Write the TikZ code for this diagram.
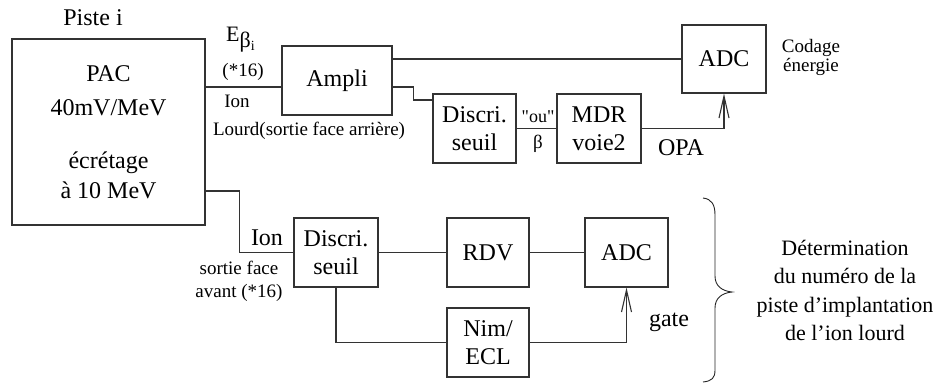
\documentclass[tikz,border=0pt]{standalone}
\usepackage{fontspec}
\setmainfont{Liberation Serif}
\newfontfamily\plainserif{Liberation Serif}
\usetikzlibrary{arrows.meta}
\begin{document}
\begin{tikzpicture}[x=1pt,y=-1pt,
  box/.style={draw=black!80,line width=1.1pt,inner sep=0pt,align=center,font=\fontsize{24}{28}\selectfont},
  wire/.style={draw=black!80,line width=1.1pt},
  arr/.style={wire,-{Straight Barb[length=22pt,width=10pt,line width=1.1pt]}},
  big/.style={font=\fontsize{24}{28}\selectfont,inner sep=0pt,anchor=base},
  small/.style={font=\fontsize{19}{22}\selectfont,inner sep=0pt,anchor=base},
]
\useasboundingbox[fill=white] (0,0) rectangle (950,383);

% boxes
\node[box,minimum width=193pt,minimum height=186pt] (pac) at (108.5,132)
  {PAC\\[6pt]40mV/MeV\\[25pt]écrétage\\[2pt]à 10 MeV};
\node[box,minimum width=110pt,minimum height=69pt] (amp) at (337,80.5) {Ampli};
\node[box,minimum width=84pt,minimum height=68pt] (adc1) at (724,59) {ADC};
\node[box,minimum width=83pt,minimum height=69pt] (d1) at (474.5,128.5) {Discri.\\seuil};
\node[box,minimum width=84pt,minimum height=69pt] (mdr) at (599,128.5) {MDR\\voie2};
\node[box,minimum width=84pt,minimum height=69pt] (d2) at (336,252.5) {Discri.\\seuil};
\node[box,minimum width=82pt,minimum height=69pt] (rdv) at (488,252.5) {RDV};
\node[box,minimum width=83pt,minimum height=69pt] (adc2) at (626.5,252.5) {ADC};
\node[box,minimum width=82pt,minimum height=69pt] (nim) at (488,342.5) {Nim/\\ECL};

% labels
\node[big] (piste) at (93,25) {Piste i};
\node[inner sep=0pt,anchor=base west,font=\fontsize{22}{22}\selectfont] (eb) at (226,41)
  {E\raisebox{-6pt}{β}\raisebox{-9pt}{\fontsize{14}{14}\selectfont i}};
\node[small] (x16) at (243,76) {(*16)};
\node[small] (ion1) at (237,107) {Ion};
\node[small] (lourd) at (309,135) {Lourd(sortie face arrière)};
\node[small] (codage) at (811,52) {Codage};
\node[small] (energie) at (811,71) {énergie};
\node[small,font=\fontsize{18}{18}\plainserif] (ou) at (538,122) {"ou"};
\node[small] (beta) at (538,148) {β};
\node[big] (opa) at (681,155) {OPA};
\node[big] (ion2) at (267,245) {Ion};
\node[small] (sortie) at (239,274) {sortie face};
\node[small] (avant) at (239,297) {avant (*16)};
\node[big] (gate) at (669,326) {gate};
\node[inner sep=0pt,align=center,font=\fontsize{22}{28.5}\selectfont] (det) at (845,290.3)
  {Détermination\\du numéro de la\\piste d’implantation\\de l’ion lourd};

% connectors
\draw[wire] (pac.east |- 0,87) -- (amp.west |- 0,87);
\draw[wire] (amp.east |- adc1.west) -- (adc1.west);
\draw[wire] (amp.east |- 0,87) -- ++(21,0) |- (d1.west |- 0,100);
\draw[wire] (d1) -- (mdr);
\draw[arr] (mdr.east) -| (adc1.south);
\draw[wire] (pac.east |- 0,191) -- ++(34,0) |- (d2.west);
\draw[wire] (d2) -- (rdv);
\draw[wire] (rdv) -- (adc2);
\draw[wire] (d2.south) |- (nim.west);
\draw[arr] (nim.east) -| (adc2.south);

% brace
\draw[line width=0.9pt,black!85] (703,198) .. controls (712,199) and (715,205) .. (715,215)
  -- (715,276) .. controls (715,286) and (722,291) .. (732,292)
  .. controls (722,293) and (715,298) .. (715,308)
  -- (715,370) .. controls (715,378) and (712,381) .. (703,382);
\end{tikzpicture}
\end{document}
